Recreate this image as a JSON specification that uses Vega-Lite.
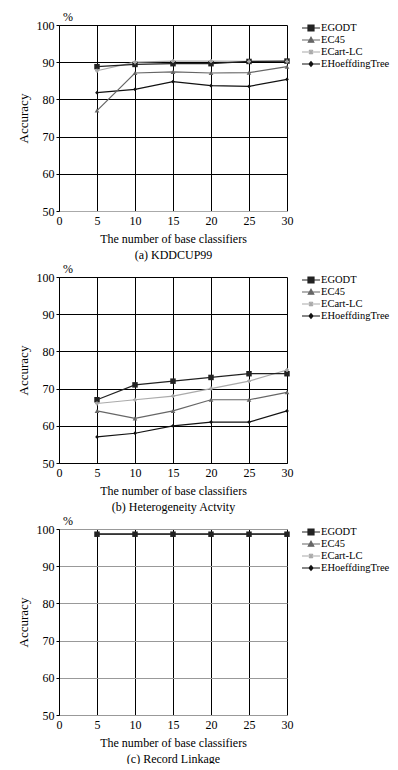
{
  "$schema": "https://vega.github.io/schema/vega-lite/v6.json",
  "padding": {"left": 17, "top": 11, "right": 0, "bottom": 0},
  "spacing": 3,
  "datasets": {
    "a": [
      {"k": 5, "series": "EHoeffdingTree", "acc": 81.8}, {"k": 10, "series": "EHoeffdingTree", "acc": 82.7}, {"k": 15, "series": "EHoeffdingTree", "acc": 84.8}, {"k": 20, "series": "EHoeffdingTree", "acc": 83.7}, {"k": 25, "series": "EHoeffdingTree", "acc": 83.5}, {"k": 30, "series": "EHoeffdingTree", "acc": 85.4},
      {"k": 5, "series": "ECart-LC", "acc": 87.7}, {"k": 10, "series": "ECart-LC", "acc": 90.0}, {"k": 15, "series": "ECart-LC", "acc": 90.3}, {"k": 20, "series": "ECart-LC", "acc": 90.3}, {"k": 25, "series": "ECart-LC", "acc": 90.2}, {"k": 30, "series": "ECart-LC", "acc": 90.2},
      {"k": 5, "series": "EC45", "acc": 77.0}, {"k": 10, "series": "EC45", "acc": 87.1}, {"k": 15, "series": "EC45", "acc": 87.4}, {"k": 20, "series": "EC45", "acc": 87.1}, {"k": 25, "series": "EC45", "acc": 87.2}, {"k": 30, "series": "EC45", "acc": 88.8},
      {"k": 5, "series": "EGODT", "acc": 88.8}, {"k": 10, "series": "EGODT", "acc": 89.4}, {"k": 15, "series": "EGODT", "acc": 89.6}, {"k": 20, "series": "EGODT", "acc": 89.6}, {"k": 25, "series": "EGODT", "acc": 90.2}, {"k": 30, "series": "EGODT", "acc": 90.3}
    ],
    "b": [
      {"k": 5, "series": "EHoeffdingTree", "acc": 57}, {"k": 10, "series": "EHoeffdingTree", "acc": 58}, {"k": 15, "series": "EHoeffdingTree", "acc": 60}, {"k": 20, "series": "EHoeffdingTree", "acc": 61}, {"k": 25, "series": "EHoeffdingTree", "acc": 61}, {"k": 30, "series": "EHoeffdingTree", "acc": 64},
      {"k": 5, "series": "ECart-LC", "acc": 66}, {"k": 10, "series": "ECart-LC", "acc": 67}, {"k": 15, "series": "ECart-LC", "acc": 68}, {"k": 20, "series": "ECart-LC", "acc": 70}, {"k": 25, "series": "ECart-LC", "acc": 72}, {"k": 30, "series": "ECart-LC", "acc": 75},
      {"k": 5, "series": "EC45", "acc": 64}, {"k": 10, "series": "EC45", "acc": 62}, {"k": 15, "series": "EC45", "acc": 64}, {"k": 20, "series": "EC45", "acc": 67}, {"k": 25, "series": "EC45", "acc": 67}, {"k": 30, "series": "EC45", "acc": 69},
      {"k": 5, "series": "EGODT", "acc": 67}, {"k": 10, "series": "EGODT", "acc": 71}, {"k": 15, "series": "EGODT", "acc": 72}, {"k": 20, "series": "EGODT", "acc": 73}, {"k": 25, "series": "EGODT", "acc": 74}, {"k": 30, "series": "EGODT", "acc": 74}
    ],
    "c": [
      {"k": 5, "series": "EHoeffdingTree", "acc": 98.6}, {"k": 10, "series": "EHoeffdingTree", "acc": 98.6}, {"k": 15, "series": "EHoeffdingTree", "acc": 98.6}, {"k": 20, "series": "EHoeffdingTree", "acc": 98.6}, {"k": 25, "series": "EHoeffdingTree", "acc": 98.6}, {"k": 30, "series": "EHoeffdingTree", "acc": 98.6},
      {"k": 5, "series": "ECart-LC", "acc": 98.6}, {"k": 10, "series": "ECart-LC", "acc": 98.6}, {"k": 15, "series": "ECart-LC", "acc": 98.6}, {"k": 20, "series": "ECart-LC", "acc": 98.6}, {"k": 25, "series": "ECart-LC", "acc": 98.6}, {"k": 30, "series": "ECart-LC", "acc": 98.6},
      {"k": 5, "series": "EC45", "acc": 98.6}, {"k": 10, "series": "EC45", "acc": 98.6}, {"k": 15, "series": "EC45", "acc": 98.6}, {"k": 20, "series": "EC45", "acc": 98.6}, {"k": 25, "series": "EC45", "acc": 98.6}, {"k": 30, "series": "EC45", "acc": 98.6},
      {"k": 5, "series": "EGODT", "acc": 98.6}, {"k": 10, "series": "EGODT", "acc": 98.6}, {"k": 15, "series": "EGODT", "acc": 98.6}, {"k": 20, "series": "EGODT", "acc": 98.6}, {"k": 25, "series": "EGODT", "acc": 98.6}, {"k": 30, "series": "EGODT", "acc": 98.6}
    ]
  },
  "vconcat": [
    {
      "width": 228, "height": 186,
      "data": {"name": "a"},
      "title": {"text": "%"},
      "encoding": {
        "x": {"field": "k", "type": "quantitative", "scale": {"domain": [0, 30]}, "axis": {"title": ["The number of base classifiers", "(a) KDDCUP99"], "domainColor": "#aaa"}},
        "y": {"field": "acc", "type": "quantitative", "scale": {"domain": [50, 100]}, "axis": {"title": "Accuracy", "gridColor": {"condition": {"test": "datum.value == 50", "value": "#aaa"}, "value": "#000"}}}
      },
      "layer": [
        {"mark": {"type": "line", "strokeWidth": 1.2}, "encoding": {"color": {"field": "series", "type": "nominal", "scale": {"domain": ["EGODT", "EC45", "ECart-LC", "EHoeffdingTree"], "range": ["#222", "#666", "#aaa", "#111"]}, "legend": null}}},
        {"transform": [{"filter": "datum.series == 'EHoeffdingTree'"}], "mark": {"type": "point", "filled": true, "opacity": 1, "shape": "diamond", "size": 14, "color": "#111"}},
        {"transform": [{"filter": "datum.series == 'EC45'"}], "mark": {"type": "point", "filled": true, "opacity": 1, "shape": "triangle-up", "size": 22, "color": "#666"}},
        {"transform": [{"filter": "datum.series == 'EGODT'"}], "mark": {"type": "point", "filled": true, "opacity": 1, "shape": "square", "size": 30, "color": "#222"}},
        {"transform": [{"filter": "datum.series == 'ECart-LC'"}], "mark": {"type": "point", "filled": true, "opacity": 1, "shape": "cross", "size": 16, "color": "#aaa"}},
        {"mark": {"type": "point", "filled": true, "size": 0}, "encoding": {
          "fill": {"field": "series", "type": "nominal", "scale": {"domain": ["EGODT", "EC45", "ECart-LC", "EHoeffdingTree"], "range": ["#222", "#666", "#aaa", "#111"]}, "legend": {"title": null, "orient": "none", "legendX": 246, "legendY": -3, "labelFont": "Liberation Serif"}},
          "stroke": {"field": "series", "type": "nominal", "scale": {"domain": ["EGODT", "EC45", "ECart-LC", "EHoeffdingTree"], "range": ["#222", "#666", "#aaa", "#111"]}, "legend": {"title": null, "orient": "none", "legendX": 246, "legendY": -3, "labelFont": "Liberation Serif"}},
          "shape": {"field": "series", "type": "nominal", "scale": {"domain": ["EGODT", "EC45", "ECart-LC", "EHoeffdingTree"], "range": ["M-1.8,0H1.8M-0.6,-0.6H0.6V0.6H-0.6Z", "M-1.8,0H1.8M-0.55,0.45L0,-0.55L0.55,0.45Z", "M-1.8,0H1.8M0,-0.5V0.5M-0.4,-0.4L0.4,0.4M-0.4,0.4L0.4,-0.4", "M-1.8,0H1.8M0,-0.45L0.4,0L0,0.45L-0.4,0Z"]}, "legend": {"title": null, "orient": "none", "legendX": 246, "legendY": -3, "labelFont": "Liberation Serif"}}}}
      ],
      "resolve": {"scale": {"fill": "independent", "stroke": "independent", "shape": "independent"}, "legend": {"fill": "independent", "stroke": "independent", "shape": "independent"}}
    },
    {
      "width": 228, "height": 186,
      "data": {"name": "b"},
      "title": {"text": "%"},
      "encoding": {
        "x": {"field": "k", "type": "quantitative", "scale": {"domain": [0, 30]}, "axis": {"title": ["The number of base classifiers", "(b) Heterogeneity Actvity"], "domainColor": "#000"}},
        "y": {"field": "acc", "type": "quantitative", "scale": {"domain": [50, 100]}, "axis": {"title": "Accuracy", "gridColor": "#000"}}
      },
      "layer": [
        {"mark": {"type": "line", "strokeWidth": 1.2}, "encoding": {"color": {"field": "series", "type": "nominal", "scale": {"domain": ["EGODT", "EC45", "ECart-LC", "EHoeffdingTree"], "range": ["#222", "#666", "#aaa", "#111"]}, "legend": null}}},
        {"transform": [{"filter": "datum.series == 'EHoeffdingTree'"}], "mark": {"type": "point", "filled": true, "opacity": 1, "shape": "diamond", "size": 14, "color": "#111"}},
        {"transform": [{"filter": "datum.series == 'EC45'"}], "mark": {"type": "point", "filled": true, "opacity": 1, "shape": "triangle-up", "size": 22, "color": "#666"}},
        {"transform": [{"filter": "datum.series == 'EGODT'"}], "mark": {"type": "point", "filled": true, "opacity": 1, "shape": "square", "size": 30, "color": "#222"}},
        {"transform": [{"filter": "datum.series == 'ECart-LC'"}], "mark": {"type": "point", "filled": true, "opacity": 1, "shape": "cross", "size": 16, "color": "#aaa"}},
        {"mark": {"type": "point", "filled": true, "size": 0}, "encoding": {
          "fill": {"field": "series", "type": "nominal", "scale": {"domain": ["EGODT", "EC45", "ECart-LC", "EHoeffdingTree"], "range": ["#222", "#666", "#aaa", "#111"]}, "legend": {"title": null, "orient": "none", "legendX": 246, "legendY": -3, "labelFont": "Liberation Serif"}},
          "stroke": {"field": "series", "type": "nominal", "scale": {"domain": ["EGODT", "EC45", "ECart-LC", "EHoeffdingTree"], "range": ["#222", "#666", "#aaa", "#111"]}, "legend": {"title": null, "orient": "none", "legendX": 246, "legendY": -3, "labelFont": "Liberation Serif"}},
          "shape": {"field": "series", "type": "nominal", "scale": {"domain": ["EGODT", "EC45", "ECart-LC", "EHoeffdingTree"], "range": ["M-1.8,0H1.8M-0.6,-0.6H0.6V0.6H-0.6Z", "M-1.8,0H1.8M-0.55,0.45L0,-0.55L0.55,0.45Z", "M-1.8,0H1.8M0,-0.5V0.5M-0.4,-0.4L0.4,0.4M-0.4,0.4L0.4,-0.4", "M-1.8,0H1.8M0,-0.45L0.4,0L0,0.45L-0.4,0Z"]}, "legend": {"title": null, "orient": "none", "legendX": 246, "legendY": -3, "labelFont": "Liberation Serif"}}}}
      ],
      "resolve": {"scale": {"fill": "independent", "stroke": "independent", "shape": "independent"}, "legend": {"fill": "independent", "stroke": "independent", "shape": "independent"}}
    },
    {
      "width": 228, "height": 186,
      "data": {"name": "c"},
      "title": {"text": "%"},
      "encoding": {
        "x": {"field": "k", "type": "quantitative", "scale": {"domain": [0, 30]}, "axis": {"title": ["The number of base classifiers", "(c) Record Linkage"], "domainColor": "#999"}},
        "y": {"field": "acc", "type": "quantitative", "scale": {"domain": [50, 100]}, "axis": {"title": "Accuracy", "gridColor": "#999"}}
      },
      "layer": [
        {"mark": {"type": "line", "strokeWidth": 1.2}, "encoding": {"color": {"field": "series", "type": "nominal", "scale": {"domain": ["EGODT", "EC45", "ECart-LC", "EHoeffdingTree"], "range": ["#222", "#666", "#aaa", "#111"]}, "legend": null}}},
        {"transform": [{"filter": "datum.series == 'EHoeffdingTree'"}], "mark": {"type": "point", "filled": true, "opacity": 1, "shape": "diamond", "size": 14, "color": "#111"}},
        {"transform": [{"filter": "datum.series == 'EC45'"}], "mark": {"type": "point", "filled": true, "opacity": 1, "shape": "triangle-up", "size": 22, "color": "#666"}},
        {"transform": [{"filter": "datum.series == 'ECart-LC'"}], "mark": {"type": "point", "filled": true, "opacity": 1, "shape": "cross", "size": 16, "color": "#aaa"}},
        {"transform": [{"filter": "datum.series == 'EGODT'"}], "mark": {"type": "point", "filled": true, "opacity": 1, "shape": "square", "size": 30, "color": "#222"}},
        {"mark": {"type": "point", "filled": true, "size": 0}, "encoding": {
          "fill": {"field": "series", "type": "nominal", "scale": {"domain": ["EGODT", "EC45", "ECart-LC", "EHoeffdingTree"], "range": ["#222", "#666", "#aaa", "#111"]}, "legend": {"title": null, "orient": "none", "legendX": 246, "legendY": -3, "labelFont": "Liberation Serif"}},
          "stroke": {"field": "series", "type": "nominal", "scale": {"domain": ["EGODT", "EC45", "ECart-LC", "EHoeffdingTree"], "range": ["#222", "#666", "#aaa", "#111"]}, "legend": {"title": null, "orient": "none", "legendX": 246, "legendY": -3, "labelFont": "Liberation Serif"}},
          "shape": {"field": "series", "type": "nominal", "scale": {"domain": ["EGODT", "EC45", "ECart-LC", "EHoeffdingTree"], "range": ["M-1.8,0H1.8M-0.6,-0.6H0.6V0.6H-0.6Z", "M-1.8,0H1.8M-0.55,0.45L0,-0.55L0.55,0.45Z", "M-1.8,0H1.8M0,-0.5V0.5M-0.4,-0.4L0.4,0.4M-0.4,0.4L0.4,-0.4", "M-1.8,0H1.8M0,-0.45L0.4,0L0,0.45L-0.4,0Z"]}, "legend": {"title": null, "orient": "none", "legendX": 246, "legendY": -3, "labelFont": "Liberation Serif"}}}}
      ],
      "resolve": {"scale": {"fill": "independent", "stroke": "independent", "shape": "independent"}, "legend": {"fill": "independent", "stroke": "independent", "shape": "independent"}}
    }
  ],
  "resolve": {
    "scale": {"color": "independent", "fill": "independent", "stroke": "independent", "shape": "independent"},
    "legend": {"color": "independent", "fill": "independent", "stroke": "independent", "shape": "independent"}
  },
  "config": {
    "font": "Liberation Serif",
    "background": "#ffffff",
    "view": {"stroke": null},
    "title": {"anchor": "start", "frame": "group", "dx": 4, "fontSize": 12, "fontWeight": "normal", "offset": -5, "color": "#000", "font": "Liberation Serif"},
    "axis": {"labelFont": "Liberation Serif", "titleFont": "Liberation Serif", "labelFontSize": 12, "titleFontSize": 12, "titleFontWeight": "normal", "labelColor": "#000", "titleColor": "#000", "gridOpacity": 1, "gridWidth": 1, "domainWidth": 1},
    "axisX": {"values": [0, 5, 10, 15, 20, 25, 30], "grid": true, "gridColor": "#000", "ticks": false, "labelPadding": 4, "titlePadding": 7, "titleLineHeight": 16, "labelFlush": false},
    "axisY": {"values": [50, 60, 70, 80, 90, 100], "grid": true, "ticks": true, "tickSize": 3, "tickColor": "#000", "domainColor": "#000", "labelPadding": 2, "titleFontSize": 13, "titlePadding": 6, "labelFlush": false},
    "legend": {"labelFont": "Liberation Serif", "labelFontSize": 10.5, "labelColor": "#000", "symbolSize": 100, "rowPadding": -1, "labelOffset": 4, "symbolStrokeWidth": 1.2, "symbolOpacity": 1, "padding": 0}
  }
}
